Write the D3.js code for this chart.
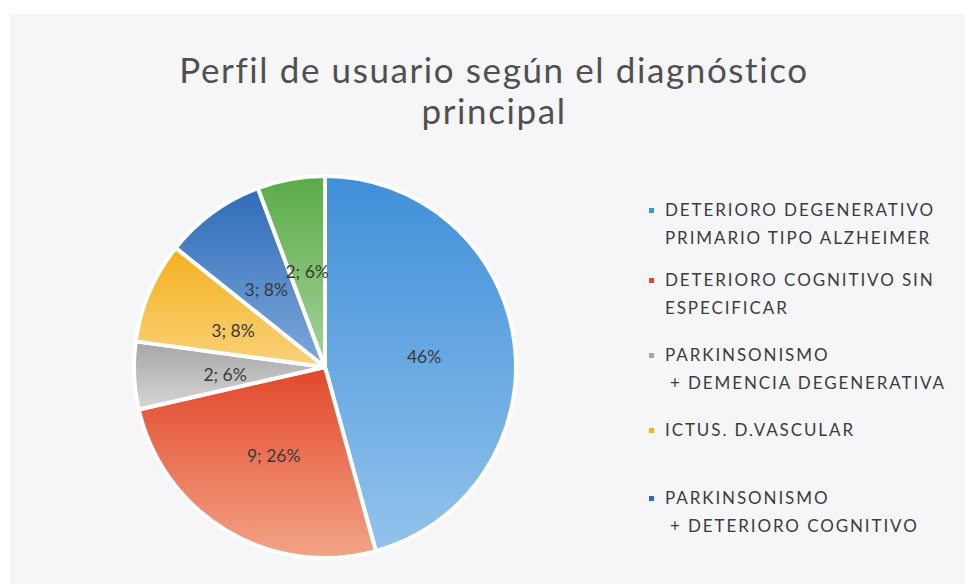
<!DOCTYPE html>
<html>
<head>
<meta charset="utf-8">
<script src="https://cdn.jsdelivr.net/npm/d3@7"></script>
<style>
  body { margin: 0; background: #fff; }
  svg { display: block; }
</style>
</head>
<body>
<div id="chart"></div>
<script>
// data
var categories = [
  ["DETERIORO DEGENERATIVO", "PRIMARIO TIPO ALZHEIMER"],
  ["DETERIORO COGNITIVO SIN", "ESPECIFICAR"],
  ["PARKINSONISMO", "+ DEMENCIA DEGENERATIVA"],
  ["ICTUS. D.VASCULAR"],
  ["PARKINSONISMO", "+ DETERIORO COGNITIVO"],
  ["OTROS"]
];
var values = [16, 9, 2, 3, 3, 2];
var labels = ["46%", "9; 26%", "2; 6%", "3; 8%", "3; 8%", "2; 6%"];
var colors = ["#3f8fd8", "#e2472b", "#a6a6a6", "#f4b01f", "#2e6cb9", "#5aab48"];
var lightColors = ["#93c3ec", "#f2a486", "#d6d6d6", "#fad27a", "#7fa8da", "#a6d39a"];
var legendCount = 5; // the last entry is cut off in the original

var svgWidth = 965;
var svgHeight = 584;

var svg = d3.select("#chart")
  .append("svg")
  .attr("width", svgWidth)
  .attr("height", svgHeight);

// faint chart area
svg.append("rect")
  .attr("x", 10)
  .attr("y", 14)
  .attr("width", svgWidth - 10)
  .attr("height", svgHeight - 14)
  .attr("fill", "#f6f6f8");

// title
var title = svg.append("text")
  .attr("text-anchor", "middle")
  .attr("font-family", "Lato, 'Open Sans', sans-serif")
  .attr("font-size", 35)
  .attr("letter-spacing", 1.6)
  .attr("fill", "#505050");
title.append("tspan").attr("x", 494).attr("y", 83).text("Perfil de usuario según el diagnóstico");
title.append("tspan").attr("x", 494).attr("y", 124).text("principal");

// gradients, darker at top and lighter at bottom
var defs = svg.append("defs");
colors.forEach(function(c, i) {
  var g = defs.append("linearGradient")
    .attr("id", "grad" + i)
    .attr("x1", 0).attr("y1", 0)
    .attr("x2", 0).attr("y2", 1);
  g.append("stop").attr("offset", "0%").attr("stop-color", c);
  g.append("stop").attr("offset", "100%").attr("stop-color", lightColors[i]);
});

var cx = 325, cy = 367, radius = 191;

var pieGroup = svg.append("g")
  .attr("transform", `translate(${cx}, ${cy})`);

var pie = d3.pie().sort(null).value(d => d);
var arcs = pie(values);

var arc = d3.arc().innerRadius(0).outerRadius(radius);
var labelArc = d3.arc().innerRadius(100).outerRadius(100);

pieGroup.selectAll("path")
  .data(arcs)
  .enter()
  .append("path")
  .attr("d", arc)
  .attr("fill", (d, i) => `url(#grad${i})`)
  .attr("stroke", "#fff")
  .attr("stroke-width", 4)
  .attr("stroke-linejoin", "round");

pieGroup.selectAll("text.lbl")
  .data(arcs)
  .enter()
  .append("text")
  .attr("class", "lbl")
  .attr("transform", d => `translate(${labelArc.centroid(d)})`)
  .attr("text-anchor", "middle")
  .attr("dy", "0.55em")
  .attr("font-family", "Lato, 'Open Sans', sans-serif")
  .attr("font-size", 17.5)
  .attr("fill", "#3a3a3a")
  .text((d, i) => labels[i]);

// legend
var legendY = [216, 286, 361, 436, 504];
var legend = svg.append("g")
  .attr("font-family", "Lato, 'Open Sans', sans-serif")
  .attr("font-size", 17)
  .attr("fill", "#3c3c3c");

categories.slice(0, legendCount).forEach(function(lines, i) {
  var item = legend.append("g")
    .attr("transform", `translate(649, ${legendY[i]})`);
  item.append("rect")
    .attr("x", 0)
    .attr("y", -8)
    .attr("width", 5)
    .attr("height", 5)
    .attr("fill", colors[i]);
  lines.forEach(function(t, j) {
    item.append("text")
      .attr("x", t.charAt(0) === "+" ? 21 : 16)
      .attr("y", j * 28)
      .attr("letter-spacing", 1.9)
      .text(t);
  });
});
</script>
</body>
</html>
